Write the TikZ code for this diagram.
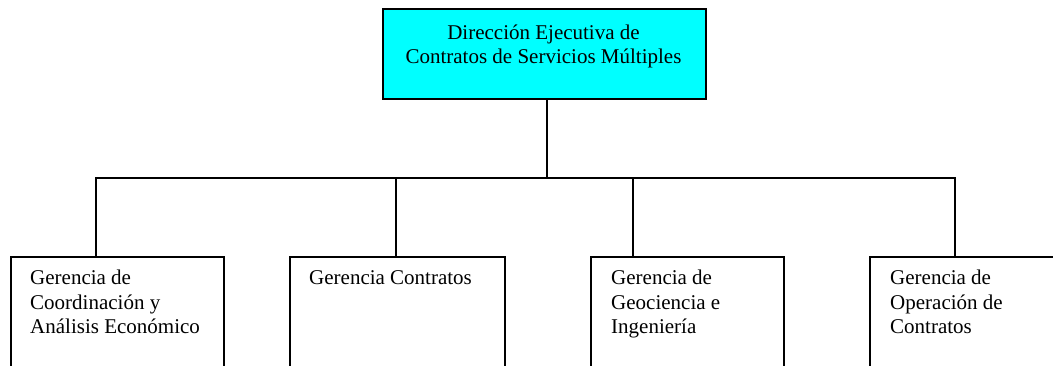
\documentclass[tikz,border=0pt]{standalone}
\usepackage{fontspec}
\setmainfont{Liberation Serif}
\definecolor{topcyan}{RGB}{0,255,255}
\begin{document}
\begin{tikzpicture}[x=1pt,y=-1pt,
  box/.style={draw, line width=2pt, rectangle, inner sep=0pt, anchor=north west},
  lbl/.style={font=\fontsize{21}{24.5}\selectfont, inner sep=0pt},
  conn/.style={line width=2pt}]
\useasboundingbox (0,0) rectangle (1053,366);
\clip (0,0) rectangle (1053,366);
% boxes
\node[box, fill=topcyan, minimum width=323pt, minimum height=90pt] (top) at (382,8) {};
\node[box, minimum width=213pt, minimum height=150pt] (b1) at (10,256) {};
\node[box, minimum width=215pt, minimum height=150pt] (b2) at (289,256) {};
\node[box, minimum width=193pt, minimum height=150pt] (b3) at (590,256) {};
\node[box, minimum width=230pt, minimum height=150pt] (b4) at (869,256) {};
% texts (anchor = baseline of last line)
\node[lbl, align=center, anchor=base] (ttop) at (543.5,64) {Dirección Ejecutiva de\\Contratos de Servicios Múltiples};
\node[lbl, align=left, anchor=base west] (t1) at (30,334) {Gerencia de\\Coordinación y\\Análisis Económico};
\node[lbl, align=left, anchor=base west] (t2) at (309,285) {Gerencia Contratos};
\node[lbl, align=left, anchor=base west] (t3) at (611,334) {Gerencia de\\Geociencia e\\Ingeniería};
\node[lbl, align=left, anchor=base west] (t4) at (890,334) {Gerencia de\\Operación de\\Contratos};
% junctions
\coordinate (jt) at (547,178);
\coordinate (j1) at (96,178);
\coordinate (j2) at (396,178);
\coordinate (j3) at (633,178);
\coordinate (j4) at (955,178);
% connectors
\draw[conn] (jt |- top.south) -- (jt);
\draw[conn, line cap=rect] (j1) -- (j4);
\draw[conn] (j1) -- (j1 |- b1.north);
\draw[conn] (j2) -- (j2 |- b2.north);
\draw[conn] (j3) -- (j3 |- b3.north);
\draw[conn] (j4) -- (j4 |- b4.north);
\end{tikzpicture}
\end{document}
